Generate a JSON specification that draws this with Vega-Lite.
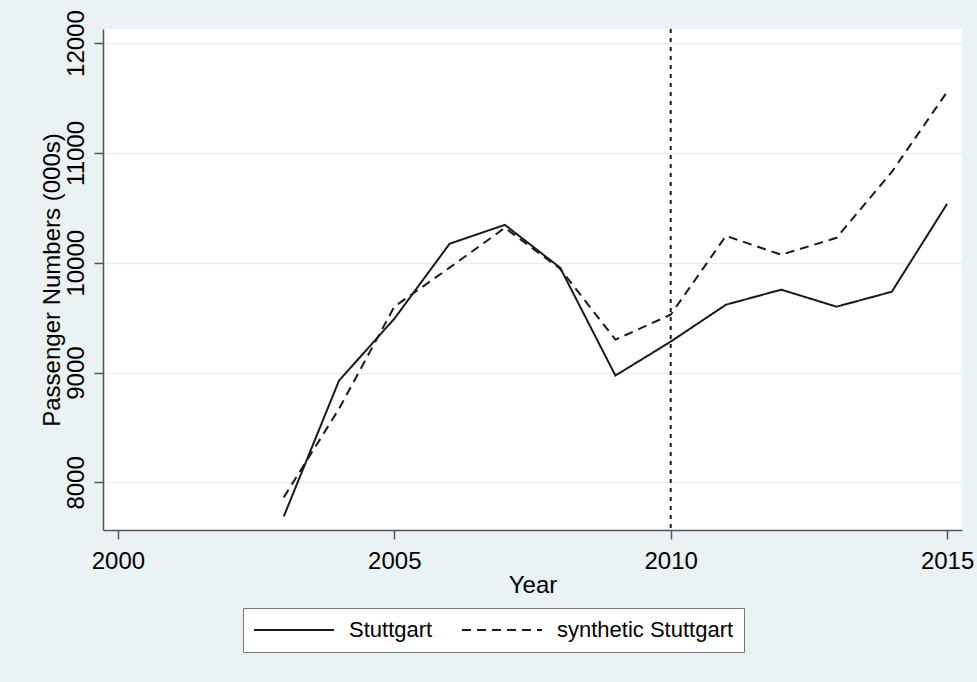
{
  "$schema": "https://vega.github.io/schema/vega-lite/v6.json",
  "width": 859,
  "height": 501,
  "autosize": {"type": "none"},
  "padding": {"left": 103, "top": 29, "right": 15, "bottom": 152},
  "background": "#eaf2f3",
  "config": {
    "view": {"fill": "white", "stroke": null},
    "font": "Liberation Sans",
    "axis": {
      "domainColor": "#555555",
      "domainWidth": 1.5,
      "tickColor": "#555555",
      "tickWidth": 1.5,
      "tickSize": 9,
      "labelFontSize": 24,
      "labelColor": "#000000",
      "labelFlush": false,
      "titleFontSize": 24,
      "titleFontWeight": "normal",
      "titleColor": "#000000"
    }
  },
  "datasets": {
    "series": [
      {"year": 2003, "passengers": 7690, "series": "Stuttgart"},
      {"year": 2004, "passengers": 8927, "series": "Stuttgart"},
      {"year": 2005, "passengers": 9490, "series": "Stuttgart"},
      {"year": 2006, "passengers": 10173, "series": "Stuttgart"},
      {"year": 2007, "passengers": 10345, "series": "Stuttgart"},
      {"year": 2008, "passengers": 9955, "series": "Stuttgart"},
      {"year": 2009, "passengers": 8973, "series": "Stuttgart"},
      {"year": 2010, "passengers": 9282, "series": "Stuttgart"},
      {"year": 2011, "passengers": 9618, "series": "Stuttgart"},
      {"year": 2012, "passengers": 9755, "series": "Stuttgart"},
      {"year": 2013, "passengers": 9600, "series": "Stuttgart"},
      {"year": 2014, "passengers": 9736, "series": "Stuttgart"},
      {"year": 2015, "passengers": 10536, "series": "Stuttgart"},
      {"year": 2003, "passengers": 7864, "series": "synthetic Stuttgart"},
      {"year": 2004, "passengers": 8670, "series": "synthetic Stuttgart"},
      {"year": 2005, "passengers": 9600, "series": "synthetic Stuttgart"},
      {"year": 2006, "passengers": 9955, "series": "synthetic Stuttgart"},
      {"year": 2007, "passengers": 10318, "series": "synthetic Stuttgart"},
      {"year": 2008, "passengers": 9945, "series": "synthetic Stuttgart"},
      {"year": 2009, "passengers": 9300, "series": "synthetic Stuttgart"},
      {"year": 2010, "passengers": 9527, "series": "synthetic Stuttgart"},
      {"year": 2011, "passengers": 10245, "series": "synthetic Stuttgart"},
      {"year": 2012, "passengers": 10073, "series": "synthetic Stuttgart"},
      {"year": 2013, "passengers": 10227, "series": "synthetic Stuttgart"},
      {"year": 2014, "passengers": 10827, "series": "synthetic Stuttgart"},
      {"year": 2015, "passengers": 11555, "series": "synthetic Stuttgart"}
    ],
    "marker": [{"year": 2010}]
  },
  "layer": [
    {
      "data": {"name": "marker"},
      "mark": {"type": "rule", "color": "#1a1a1a", "strokeWidth": 2, "strokeDash": [4, 5]},
      "encoding": {
        "x": {"field": "year", "type": "quantitative"}
      }
    },
    {
      "data": {"name": "series"},
      "mark": {"type": "line", "color": "#1a1a1a", "strokeWidth": 2},
      "encoding": {
        "x": {
          "field": "year",
          "type": "quantitative",
          "scale": {"domain": [1999.73, 2015.27], "nice": false, "zero": false},
          "axis": {
            "values": [2000, 2005, 2010, 2015],
            "format": "d",
            "title": "Year",
            "grid": false,
            "labelPadding": 10,
            "titlePadding": 0
          }
        },
        "y": {
          "field": "passengers",
          "type": "quantitative",
          "scale": {"domain": [7567, 12128], "nice": false, "zero": false},
          "axis": {
            "values": [8000, 9000, 10000, 11000, 12000],
            "format": "d",
            "title": "Passenger Numbers (000s)",
            "grid": true,
            "gridColor": "#e6eff1",
            "gridWidth": 1.5,
            "labelAngle": -90,
            "labelAlign": "center",
            "labelBaseline": "alphabetic",
            "labelPadding": 11,
            "titlePadding": 0
          }
        },
        "strokeDash": {
          "field": "series",
          "type": "nominal",
          "scale": {"domain": ["Stuttgart", "synthetic Stuttgart"], "range": [[1, 0], [9, 6]]},
          "legend": {
            "orient": "none",
            "legendX": 140,
            "legendY": 579,
            "direction": "horizontal",
            "title": null,
            "fillColor": "white",
            "strokeColor": "#777777",
            "padding": 10,
            "symbolType": "stroke",
            "symbolSize": 6400,
            "symbolStrokeWidth": 2,
            "symbolStrokeColor": "#1a1a1a",
            "clipHeight": 24,
            "labelFontSize": 22,
            "labelColor": "#000000",
            "labelOffset": 14,
            "labelLimit": 400,
            "columnPadding": 28
          }
        }
      }
    }
  ]
}
